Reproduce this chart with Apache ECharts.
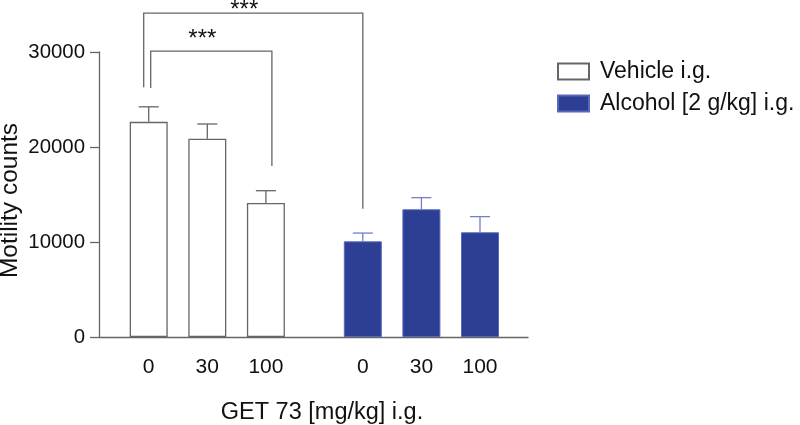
<!DOCTYPE html>
<html>
<head>
<meta charset="utf-8">
<script src="https://cdn.jsdelivr.net/npm/echarts@6/dist/echarts.min.js"></script>
<style>html,body{margin:0;padding:0;background:#fff}#c{width:800px;height:425px}</style>
</head>
<body>
<div id="c"></div>
<script>
// ---- data ----
const doseLabels = ['0', '30', '100'];
const vehicleMeans = [22650, 20880, 14100];
const vehicleErr = [1580, 1540, 1300];
const alcoholMeans = [10070, 13440, 11020];
const alcoholErr = [870, 1230, 1650];
const yTicks = [0, 10000, 20000, 30000];
const seriesNames = ['Vehicle i.g.', 'Alcohol [2 g/kg] i.g.'];
const xAxisTitle = 'GET 73 [mg/kg] i.g.';
const yAxisTitle = 'Motility counts';
// significance brackets: group/category of each end, bracket top value, end values
const brackets = [
  { from: [0, 0], to: [0, 2], top: 30100, fromEnd: 26200, toEnd: 18000, label: '***' },
  { from: [0, 0], to: [1, 0], top: 34100, fromEnd: 26300, toEnd: 13500, label: '***' }
];

// ---- styles ----
const FONT = '"Liberation Sans", Arial, sans-serif';
const BLUE = '#2c3f95';
const BLUE_EDGE = '#5868b8';
const BLUE_ERR = '#6f7fc8';
const GREY = '#666666';
const bracketOffsets = [[2, 6], [-5, 0]]; // left/right end pixel shift for each bracket
const labelGaps = [0, 9];                // text bottom relative to the bracket line
const TEXT = '#111';

const chart = echarts.init(document.getElementById('c'), null, { renderer: 'canvas' });

const yMax = yTicks[yTicks.length - 1];
function hiddenY(gi) {
  return { type: 'value', gridIndex: gi, min: 0, max: yMax, interval: 10000, show: false };
}
function groupX(gi) {
  return {
    type: 'category', gridIndex: gi, data: doseLabels,
    axisLine: { show: false }, axisTick: { show: false },
    axisLabel: { fontFamily: FONT, fontSize: 21, color: TEXT, margin: 20 }
  };
}
function errSeries(name, gi, means, errs, color) {
  return {
    type: 'custom', name: name, xAxisIndex: gi, yAxisIndex: gi, z: 3,
    data: means.map((m, i) => [i, m, errs[i]]),
    renderItem: function (params, api) {
      const x = api.value(0), m = api.value(1), e = api.value(2);
      const p0 = api.coord([x, m]);
      const p1 = api.coord([x, m + e]);
      const st = { stroke: color, lineWidth: 1.3, fill: null };
      return {
        type: 'group',
        children: [
          { type: 'line', shape: { x1: p0[0], y1: p0[1], x2: p1[0], y2: p1[1] }, style: st },
          { type: 'line', shape: { x1: p1[0] - 10, y1: p1[1], x2: p1[0] + 10, y2: p1[1] }, style: st }
        ]
      };
    },
    silent: true
  };
}

const option = {
  backgroundColor: '#fff',
  animation: false,
  textStyle: { fontFamily: FONT },
  grid: [
    { left: 99, right: 272, top: 52, bottom: 88, outerBoundsMode: 'none', containLabel: false },
    { left: 119.4, width: 175.8, top: 52, bottom: 88, outerBoundsMode: 'none', containLabel: false },
    { left: 333.5, width: 175.8, top: 52, bottom: 88, outerBoundsMode: 'none', containLabel: false }
  ],
  legend: {
    orient: 'vertical', left: 557, top: 60, padding: 0,
    itemWidth: 31, itemHeight: 16, itemGap: 9,
    icon: 'rect',
    data: seriesNames,
    textStyle: { fontFamily: FONT, fontSize: 23, color: TEXT, padding: [0, 0, 0, 6] }
  },
  xAxis: [
    {
      type: 'value', gridIndex: 0, min: 0, max: 1,
      axisLine: { show: true, lineStyle: { color: GREY, width: 1.3 } },
      axisTick: { show: false }, axisLabel: { show: false }, splitLine: { show: false },
      name: xAxisTitle, nameLocation: 'middle', nameGap: 64, nameMoveOverlap: false,
      nameTextStyle: { fontFamily: FONT, fontSize: 23.5, color: TEXT, padding: [0, 0, 0, 17] }
    },
    groupX(1), groupX(2)
  ],
  yAxis: [
    {
      type: 'value', gridIndex: 0, min: 0, max: yMax, interval: 10000,
      axisLine: { show: true, lineStyle: { color: GREY, width: 1.3 } },
      axisTick: { show: true, length: 9, lineStyle: { color: GREY, width: 1.3 } },
      splitLine: { show: false },
      axisLabel: { fontFamily: FONT, fontSize: 20.4, color: TEXT, margin: 14, formatter: v => String(v) },
      name: yAxisTitle, nameLocation: 'middle', nameGap: 76, nameRotate: 90, nameMoveOverlap: false,
      nameTextStyle: { fontFamily: FONT, fontSize: 24.5, color: TEXT, padding: [0, 12, 0, 0] }
    },
    hiddenY(1), hiddenY(2)
  ],
  series: [
    {
      type: 'bar', name: seriesNames[0], xAxisIndex: 1, yAxisIndex: 1, barWidth: 38,
      data: vehicleMeans,
      itemStyle: { color: '#fff', borderColor: GREY, borderWidth: 1.3 }
    },
    {
      type: 'bar', name: seriesNames[1], xAxisIndex: 2, yAxisIndex: 2, barWidth: 38,
      data: alcoholMeans,
      itemStyle: { color: BLUE, borderColor: BLUE_EDGE, borderWidth: 1 }
    },
    errSeries(seriesNames[0], 1, vehicleMeans, vehicleErr, GREY),
    errSeries(seriesNames[1], 2, alcoholMeans, alcoholErr, BLUE_ERR)
  ]
};
chart.setOption(option);

// brackets drawn through the axes' own scales
function px(groupIdx, cat, val) {
  const gi = groupIdx + 1;
  return chart.convertToPixel({ xAxisIndex: gi, yAxisIndex: gi }, [cat, val]);
}
const graphics = [];
brackets.forEach((b, k) => {
  const off = bracketOffsets[k];
  const aTop = px(b.from[0], b.from[1], b.top);
  const aEnd = px(b.from[0], b.from[1], b.fromEnd);
  const bTop = px(b.to[0], b.to[1], b.top);
  const bEnd = px(b.to[0], b.to[1], b.toEnd);
  const xa = aTop[0] + off[0];
  const xb = bTop[0] + off[1];
  graphics.push({
    type: 'polyline', silent: true,
    shape: { points: [[xa, aEnd[1]], [xa, aTop[1]], [xb, aTop[1]], [xb, bEnd[1]]] },
    style: { stroke: GREY, lineWidth: 1.3, fill: null }
  });
  graphics.push({
    type: 'text', silent: true,
    x: (xa + xb) / 2 - 9, y: aTop[1] + labelGaps[k],
    style: { text: b.label, font: '24px ' + FONT, fill: TEXT, align: 'center', verticalAlign: 'bottom' }
  });
});
chart.setOption({ graphic: graphics });
</script>
</body>
</html>
